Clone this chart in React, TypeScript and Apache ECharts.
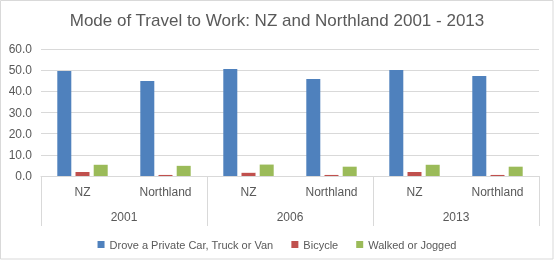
import React, { useEffect, useRef } from "react";
import * as echarts from "echarts";

const regions = ["NZ", "Northland", "NZ", "Northland", "NZ", "Northland"];
const years = ["2001", "2006", "2013"];
const seriesNames = ["Drove a Private Car, Truck or Van", "Bicycle", "Walked or Jogged"];
const drove = [49.6, 44.9, 50.6, 45.8, 50.1, 47.3];
const bicycle = [1.9, 0.5, 1.5, 0.5, 1.9, 0.5];
const walked = [5.3, 4.8, 5.4, 4.4, 5.3, 4.4];
const colors = ["#4F81BD", "#C0504D", "#9BBB59"];
const yTicks = [0, 10, 20, 30, 40, 50, 60];

const FONT = "Liberation Sans";
const TXT = "#595959";

export default function App() {
  const ref = useRef<HTMLDivElement>(null);
  useEffect(() => {
    if (!ref.current) return;
    const chart = echarts.init(ref.current, undefined, { renderer: "svg" });
    const values = [drove, bicycle, walked];
    chart.setOption({
      animation: false,
      textStyle: { fontFamily: FONT },
      title: {
        text: "Mode of Travel to Work: NZ and Northland 2001 - 2013",
        left: "center",
        top: 7,
        textStyle: { fontFamily: FONT, fontSize: 17, fontWeight: "normal", color: TXT },
      },
      graphic: [
        {
          type: "rect",
          shape: { x: 0.5, y: 0.5, width: 552.5, height: 258.5 },
          style: { fill: "none", stroke: "#d9d9d9", lineWidth: 1 },
          silent: true,
        },
      ],
      legend: {
        bottom: 5,
        left: "center",
        itemWidth: 7,
        itemHeight: 7,
        itemGap: 18,
        icon: "rect",
        textStyle: { fontFamily: FONT, fontSize: 11, color: TXT },
        data: seriesNames,
      },
      grid: { left: 41, right: 15, top: 49, bottom: 84, containLabel: false },
      xAxis: [
        {
          type: "category",
          data: regions,
          position: "bottom",
          axisLine: { show: true, lineStyle: { color: "#d9d9d9" } },
          axisTick: { show: false },
          axisLabel: { color: TXT, fontSize: 12, margin: 10, fontFamily: FONT },
        },
        {
          type: "category",
          data: years,
          position: "bottom",
          axisLine: { show: false },
          axisTick: { show: true, length: 50, alignWithLabel: false, lineStyle: { color: "#d9d9d9" } },
          axisLabel: { color: TXT, fontSize: 12, margin: 35, fontFamily: FONT },
        },
      ],
      yAxis: {
        type: "value",
        min: yTicks[0],
        max: yTicks[yTicks.length - 1],
        interval: 10,
        axisLine: { show: false },
        axisTick: { show: false },
        splitLine: { lineStyle: { color: "#d9d9d9" } },
        axisLabel: {
          color: TXT,
          fontSize: 12,
          margin: 9,
          fontFamily: FONT,
          formatter: (v: number) => v.toFixed(1),
        },
      },
      series: seriesNames.map((name, i) => ({
        name,
        type: "bar",
        xAxisIndex: 0,
        data: values[i],
        barWidth: 14,
        barGap: "30%",
        itemStyle: { color: colors[i] },
      })),
    });
    return () => chart.dispose();
  }, []);
  return (
    <div
      ref={ref}
      style={{ position: "fixed", left: 0, top: 0, width: 554, height: 260 }}
    />
  );
}
